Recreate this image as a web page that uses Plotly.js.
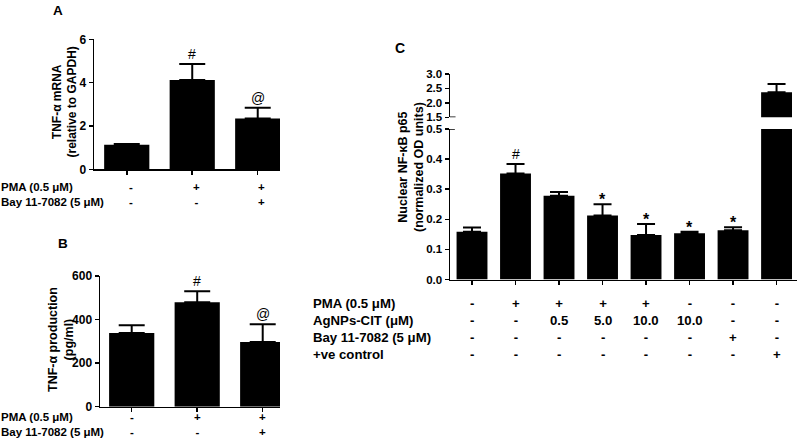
<!DOCTYPE html>
<html>
<head>
<meta charset="utf-8">
<script src="https://cdn.plot.ly/plotly-3.0.1.min.js"></script>
<style>html,body{margin:0;padding:0;background:#fff;}#chart{width:799px;height:447px;}</style>
</head>
<body>
<div id="chart"></div>
<script>
// ---------- DATA ----------
const groupsAB = ['Control', 'PMA', 'PMA + Bay'];
const mrnaA = [1.13, 4.12, 2.35];
const mrnaErrA = [0.04, 0.74, 0.49];
const sigA = ['', '#', '@'];

const tnfB = [338, 479, 297];
const tnfErrB = [36, 51, 81];
const sigB = ['', '#', '@'];

const rowLabelsAB = ['PMA (0.5 \u03bcM)', 'Bay 11-7082 (5 \u03bcM)'];
const pmaAB = ['-', '+', '+'];
const bayAB = ['-', '-', '+'];

const groupsC = ['Control', 'PMA', 'PMA+Ag0.5', 'PMA+Ag5', 'PMA+Ag10', 'Ag10', 'Bay', '+ve'];
const nfkbC = [0.159, 0.352, 0.278, 0.213, 0.148, 0.154, 0.164, 2.37];
const nfkbErrC = [0.014, 0.032, 0.013, 0.037, 0.036, 0.005, 0.010, 0.28];
const sigC = ['', '#', '', '*', '*', '*', '*', ''];

const rowLabelsC = ['PMA (0.5 \u03bcM)', 'AgNPs-CIT (\u03bcM)', 'Bay 11-7082 (5 \u03bcM)', '+ve control'];
const pmaC = ['-', '+', '+', '+', '+', '-', '-', '-'];
const agC = ['-', '-', '0.5', '5.0', '10.0', '10.0', '-', '-'];
const bayC = ['-', '-', '-', '-', '-', '-', '+', '-'];
const posC = ['-', '-', '-', '-', '-', '-', '-', '+'];

const yTicksCUpper = [1.5, 2.0, 2.5, 3.0];

// ---------- HELPERS ----------
const W = 799, H = 447;
const px = v => v / W;
const py = v => 1 - v / H;
const FONT = 'Liberation Sans, Arial, sans-serif';
const idx = arr => arr.map((_, i) => i);
const zeros = arr => arr.map(() => 0);
const bold = size => ({family: FONT, size: size, color: '#000', weight: 'bold'});

function barTrace(xs, ys, errs, xa, ya, width, cap) {
  return {
    type: 'bar', x: xs, y: ys, xaxis: xa, yaxis: ya, width: width,
    marker: {color: '#000', line: {width: 0}},
    error_y: {type: 'data', symmetric: false, array: errs, arrayminus: zeros(errs),
              color: '#000', thickness: 2, width: cap, visible: true},
    hoverinfo: 'skip', showlegend: false
  };
}

const xA = idx(groupsAB), xC = idx(groupsC);
const data = [
  barTrace(xA, mrnaA, mrnaErrA, 'x', 'y', 0.69, 13),
  barTrace(xA, tnfB, tnfErrB, 'x2', 'y2', 0.69, 13),
  barTrace(xC, nfkbC, nfkbErrC, 'x3', 'y3', 0.71, 9),
  barTrace(xC, nfkbC, nfkbErrC, 'x3', 'y4', 0.71, 9)
];

function yax(domain, range, dtick, xa, fmt, fs) {
  return {domain: domain, range: range, dtick: dtick, tick0: 0, anchor: xa,
          showline: true, linecolor: '#000', linewidth: 1.5, ticks: 'outside',
          ticklen: 4, tickwidth: 1.5, tickcolor: '#000', showgrid: false, zeroline: false,
          tickfont: bold(fs), tickformat: fmt || '', fixedrange: true, automargin: false};
}
function xax(domain, range, n, ya) {
  return {domain: domain, range: range, anchor: ya, showline: true, linecolor: '#000',
          linewidth: 1.5, ticks: 'outside', ticklen: 4, tickwidth: 1.5, tickcolor: '#000',
          tickvals: idx(Array(n).fill(0)), showticklabels: false, showgrid: false,
          zeroline: false, fixedrange: true, automargin: false};
}

const annotations = [];
function ann(o) {
  annotations.push(Object.assign({showarrow: false, xanchor: 'center', yanchor: 'middle',
    borderpad: 0, font: bold(12)}, o));
}

// Panel letters
ann({text: 'A', xref: 'paper', yref: 'paper', x: px(58), y: py(10), font: bold(13.5)});
ann({text: 'B', xref: 'paper', yref: 'paper', x: px(63), y: py(243), font: bold(13.5)});
ann({text: 'C', xref: 'paper', yref: 'paper', x: px(400), y: py(48), font: bold(14)});

// Y titles
ann({text: 'TNF-\u03b1 mRNA<br>(relative to GAPDH)', xref: 'paper', yref: 'paper', x: px(64.5), y: py(102), textangle: -90, font: bold(12)});
ann({text: 'TNF-\u03b1 production<br>(pg/ml)', xref: 'paper', yref: 'paper', x: px(61), y: py(340), textangle: -90, font: bold(12.5)});
ann({text: 'Nuclear NF-\u03baB p65<br>(normalized OD units)', xref: 'paper', yref: 'paper', x: px(411), y: py(167), textangle: -90, font: bold(12.5)});

// Significance marks
const sigFont = {family: FONT, size: 14, color: '#000'};
sigA.forEach((s, i) => { if (s) ann({text: s, xref: 'x', yref: 'y', x: i, y: mrnaA[i] + mrnaErrA[i], yanchor: 'bottom', yshift: 1, font: sigFont}); });
sigB.forEach((s, i) => { if (s) ann({text: s, xref: 'x2', yref: 'y2', x: i, y: tnfB[i] + tnfErrB[i], yanchor: 'bottom', yshift: 1, font: sigFont}); });
sigC.forEach((s, i) => { if (s) ann({text: s, xref: 'x3', yref: 'y3', x: i, y: nfkbC[i] + nfkbErrC[i], yanchor: 'bottom', yshift: s === '*' ? -5 : 1, font: s === '*' ? bold(16) : sigFont}); });

// Condition rows A and B (one multi-line text per column)
const rowsAB = [pmaAB, bayAB];
const fAB = bold(11.5);
const midA = 195, midB = 424;
const labAB = rowLabelsAB.join('<br>');
ann({text: labAB, xref: 'paper', yref: 'paper', x: 0, xanchor: 'left', align: 'left', y: py(midA), font: fAB});
ann({text: labAB, xref: 'paper', yref: 'paper', x: 0, xanchor: 'left', align: 'left', y: py(midB), font: fAB});
xA.forEach(i => {
  const col = rowsAB.map(r => r[i]).join('<br>');
  ann({text: col, xref: 'x', yref: 'paper', x: i, xshift: 4, y: py(midA), font: fAB});
  ann({text: col, xref: 'x2', yref: 'paper', x: i, y: py(midB), font: fAB});
});

// Condition rows C
const rowsC = [pmaC, agC, bayC, posC];
const fC = bold(13.2);
const midC = 329;
ann({text: rowLabelsC.join('<br>'), xref: 'paper', yref: 'paper', x: px(312), xanchor: 'left', align: 'left', y: py(midC), font: fC});
xC.forEach(i => {
  ann({text: rowsC.map(r => r[i]).join('<br>'), xref: 'x3', yref: 'paper', x: i, y: py(midC), font: fC});
});

const layout = {
  width: W, height: H, margin: {l: 0, r: 0, t: 0, b: 0, pad: 0},
  paper_bgcolor: '#fff', plot_bgcolor: 'rgba(0,0,0,0)', showlegend: false,
  xaxis: xax([px(94), px(280)], [-0.5, 2.34], 3, 'y'),
  yaxis: yax([py(169.3), py(39.3)], [0, 6], 2, 'x', '', 12),
  xaxis2: xax([px(100), px(280)], [-0.484, 2.264], 3, 'y2'),
  yaxis2: yax([py(406.7), py(276)], [0, 600], 200, 'x2', '', 12),
  xaxis3: xax([px(450), px(797)], [-0.506, 7.47], 8, 'y3'),
  yaxis3: yax([py(279.5), py(129)], [0, 0.5], 0.1, 'x3', '.1f', 11.5),
  yaxis4: Object.assign(yax([py(117.3), py(74)], [1.5, 3.0], 0.5, 'x3', '.1f', 11.5), {tickvals: yTicksCUpper}),
  annotations: annotations,
  shapes: [
    {type: 'line', xref: 'x3 domain', yref: 'y4', x0: 0, x1: 0.016, y0: 1.5, y1: 1.5, line: {color: '#000', width: 1.5}},
    {type: 'line', xref: 'x3 domain', yref: 'y3', x0: 0, x1: 0.014, y0: 0.5, y1: 0.5, line: {color: '#000', width: 1.5}}
  ]
};

Plotly.newPlot('chart', data, layout, {staticPlot: true, displayModeBar: false});
</script>
</body>
</html>
